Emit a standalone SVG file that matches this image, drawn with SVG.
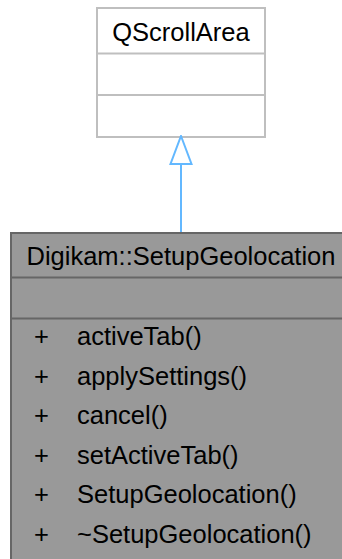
<svg xmlns="http://www.w3.org/2000/svg" width="342" height="559" viewBox="0 0 342 559">
<style>
text{font-family:"Liberation Sans",Arial,Helvetica,sans-serif;font-size:25.5px;fill:#000}
.base rect,.base line{stroke:#bfbfbf;stroke-width:2}
.base rect{fill:#fff}
.cls rect,.cls line{stroke:#666;stroke-width:2}
.cls rect{fill:#999}
.mid{text-anchor:middle}
.edge{stroke:#63b8ff;stroke-width:2;fill:none}
</style>
<defs>
<marker id="inh" markerUnits="userSpaceOnUse" markerWidth="26" markerHeight="32" refX="12" refY="29" orient="0" viewBox="0 0 26 32">
<polygon points="12,1 22.5,29 1.5,29" fill="#fff" stroke="#63b8ff" stroke-width="2"/>
</marker>
</defs>
<g id="node-QScrollArea" class="base">
<rect x="97" y="8" width="168" height="129"/>
<line x1="97" y1="53.5" x2="265" y2="53.5"/>
<line x1="97" y1="95" x2="265" y2="95"/>
<text class="mid" x="181" y="41">QScrollArea</text>
</g>
<g id="node-SetupGeolocation" class="cls">
<rect x="11" y="233" width="340" height="340"/>
<line x1="11" y1="277.5" x2="351" y2="277.5"/>
<line x1="11" y1="318.5" x2="351" y2="318.5"/>
<text class="mid" x="181" y="265">Digikam::SetupGeolocation</text>
<text x="34" y="345">+</text><text x="77" y="345">activeTab()</text>
<text x="34" y="384.5">+</text><text x="77" y="384.5">applySettings()</text>
<text x="34" y="424">+</text><text x="77" y="424">cancel()</text>
<text x="34" y="463.5">+</text><text x="77" y="463.5">setActiveTab()</text>
<text x="34" y="503">+</text><text x="77" y="503">SetupGeolocation()</text>
<text x="34" y="542.5">+</text><text x="77" y="542.5">~SetupGeolocation()</text>
</g>
<g id="connectors">
<line class="edge" x1="181" y1="232" x2="181" y2="164" marker-end="url(#inh)"/>
</g>
</svg>
